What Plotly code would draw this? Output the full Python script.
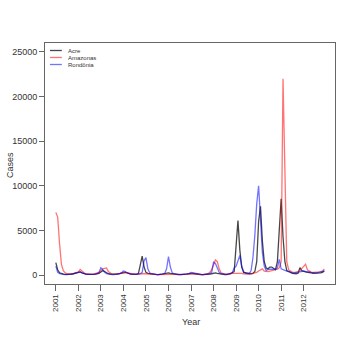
import plotly.graph_objects as go

years = list(range(2001, 2013))
year_labels = [str(y) for y in years]
states = ["Acre", "Amazonas", "Rondônia"]

acre = [
    1400, 600, 250, 150, 100, 80, 60, 60, 80, 120, 200, 250,
    300, 350, 250, 150, 100, 80, 60, 60, 80, 100, 150, 200,
    350, 500, 400, 250, 150, 100, 80, 60, 80, 100, 150, 200,
    250, 300, 250, 150, 100, 80, 60, 80, 200, 1100, 2130, 900,
    300, 200, 150, 120, 100, 80, 60, 60, 80, 100, 150, 200,
    250, 200, 150, 100, 80, 60, 50, 50, 60, 80, 100, 150,
    200, 200, 150, 100, 80, 60, 50, 50, 60, 80, 120, 150,
    200, 250, 200, 150, 100, 80, 60, 60, 100, 150, 250, 400,
    3800, 6100, 2800, 900, 300, 250, 200, 150, 150, 200, 400, 1500,
    6000, 7700, 3800, 1500, 800, 700, 900, 900, 700, 600, 1500, 5500,
    8550, 4300, 1500, 500, 350, 300, 200, 150, 150, 200, 830, 500,
    400, 350, 300, 300, 250, 200, 200, 250, 250, 250, 300, 450,
]

amazonas = [
    7000, 6500, 3500, 1200, 500, 250, 150, 100, 100, 150, 200, 250,
    350, 640, 400, 250, 150, 100, 80, 80, 100, 150, 200, 300,
    500, 700, 750, 800, 400, 200, 100, 80, 100, 150, 200, 250,
    300, 300, 250, 200, 150, 100, 80, 80, 100, 150, 150, 150,
    150, 150, 150, 120, 100, 80, 60, 60, 80, 100, 100, 100,
    100, 100, 100, 100, 80, 60, 50, 50, 60, 80, 100, 100,
    150, 150, 150, 120, 100, 80, 60, 60, 100, 150, 300, 600,
    1200, 1700, 1500, 700, 250, 150, 100, 100, 100, 150, 200, 200,
    250, 250, 250, 200, 150, 100, 100, 100, 150, 200, 250, 300,
    450, 600, 700, 450, 400, 400, 450, 500, 550, 600, 650, 800,
    1500, 22000, 10000, 1500, 600, 400, 300, 300, 300, 350, 500, 700,
    900, 1200, 600, 400, 300, 300, 300, 300, 300, 350, 450, 700,
]

rondonia = [
    1000, 300, 150, 100, 80, 60, 60, 80, 100, 150, 200, 250,
    300, 350, 250, 150, 100, 80, 60, 60, 80, 100, 150, 300,
    830, 600, 300, 150, 100, 80, 60, 60, 80, 100, 150, 250,
    450, 400, 250, 150, 100, 80, 60, 60, 100, 150, 300, 1600,
    1950, 700, 250, 150, 100, 80, 60, 60, 80, 100, 200, 700,
    2060, 900, 250, 150, 100, 80, 60, 60, 80, 100, 150, 200,
    300, 250, 200, 150, 100, 80, 60, 60, 80, 100, 150, 300,
    1450, 1300, 700, 300, 150, 100, 80, 80, 100, 150, 300, 800,
    1000, 1500, 2200, 1000, 400, 200, 150, 150, 500, 2000, 4500, 8000,
    10000, 5500, 2500, 1000, 500, 650, 650, 600, 600, 650, 800, 1750,
    700, 600, 500, 450, 400, 300, 250, 250, 300, 350, 400, 400,
    450, 400, 400, 350, 300, 250, 250, 250, 300, 300, 400, 500,
]

y_ticks = [0, 5000, 10000, 15000, 20000, 25000]

series = [acre, amazonas, rondonia]
colors = ["rgba(0,0,0,0.72)", "rgba(255,0,0,0.55)", "rgba(0,0,255,0.55)"]

n = len(acre)
t = [2001 + i / 12 for i in range(n)]

fig = go.Figure()
for name, vals, col in zip(states, series, colors):
    fig.add_trace(go.Scatter(x=t, y=vals, mode="lines", name=name,
                             line=dict(color=col, width=1.3), showlegend=False))

FONT = "Liberation Sans, Arial, sans-serif"

fig.update_layout(
    width=358, height=338,
    margin=dict(l=42, r=23, t=43, b=54),
    paper_bgcolor="white", plot_bgcolor="white",
    font=dict(family=FONT, color="#333333"),
    xaxis=dict(range=[2000.52, 2013.39], tickmode="array",
               tickvals=years, ticktext=year_labels, tickangle=-90,
               showgrid=False, zeroline=False, showline=True, mirror=True,
               linecolor="#666666", linewidth=1, ticks="outside", ticklen=6,
               tickcolor="#666666", tickfont=dict(size=8, color="#333333")),
    yaxis=dict(range=[-1000, 26000], tickmode="array", tickvals=y_ticks,
               ticktext=[str(v) for v in y_ticks],
               showgrid=False, zeroline=False, showline=True, mirror=True,
               linecolor="#666666", linewidth=1, ticks="outside", ticklen=5,
               tickcolor="#666666", tickfont=dict(size=9, color="#333333")),
)

# axis titles
fig.add_annotation(text="Year", xref="paper", yref="paper", x=0.505, y=0,
                   yshift=-38, showarrow=False, xanchor="center", yanchor="middle",
                   font=dict(size=9, color="#333333", family=FONT))
fig.add_annotation(text="Cases", xref="paper", yref="paper", x=0, y=0.494,
                   xshift=-35, showarrow=False, textangle=-90,
                   xanchor="center", yanchor="middle",
                   font=dict(size=9, color="#333333", family=FONT))

# compact legend (top-left inside the plot)
leg_x0, leg_x1 = 47, 59
row_y = [50.5, 57.5, 64.5]
pl, pr, pt, pb = 42, 335, 43, 284
for name, col, yy in zip(states, colors, row_y):
    fy = (pb - yy) / (pb - pt)
    fig.add_shape(type="line", xref="paper", yref="paper",
                  x0=(leg_x0 - pl) / (pr - pl), x1=(leg_x1 - pl) / (pr - pl),
                  y0=fy, y1=fy, line=dict(color=col, width=1.3))
    fig.add_annotation(text=name, xref="paper", yref="paper",
                       x=(63 - pl) / (pr - pl), y=fy, showarrow=False,
                       xanchor="left", yanchor="middle",
                       font=dict(size=6, color="#333333", family=FONT))

fig.write_html("out.html")
